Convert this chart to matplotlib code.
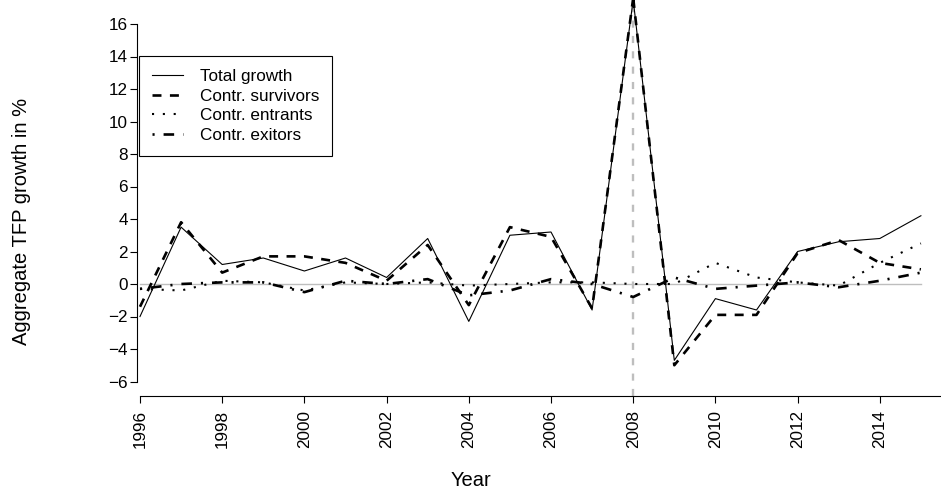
import matplotlib
matplotlib.use('Agg')
import matplotlib.pyplot as plt
import numpy as np

plt.rcParams['font.family'] = ['Liberation Sans', 'DejaVu Sans']

years = np.arange(1996, 2016)
total_growth = [-2.0, 3.5, 1.2, 1.6, 0.8, 1.6, 0.4, 2.8, -2.3, 3.0, 3.2, -1.6, 17.5, -4.7, -0.9, -1.6, 2.0, 2.6, 2.8, 4.2]
contr_survivors = [-1.4, 3.8, 0.7, 1.7, 1.7, 1.3, 0.2, 2.4, -1.3, 3.5, 2.9, -1.5, 17.6, -5.0, -1.9, -1.9, 1.9, 2.7, 1.3, 0.9]
contr_entrants = [-0.3, -0.4, 0.2, 0.1, -0.4, 0.1, 0.0, 0.1, -0.1, 0.0, 0.1, 0.1, 0.0, 0.0, 1.3, 0.4, 0.1, -0.1, 1.3, 2.5]
contr_exitors = [-0.3, 0.0, 0.1, 0.1, -0.5, 0.2, 0.0, 0.3, -0.7, -0.4, 0.3, 0.0, -0.8, 0.4, -0.3, -0.1, 0.1, -0.2, 0.2, 0.7]
labels = ['Total growth', 'Contr. survivors', 'Contr. entrants', 'Contr. exitors']
x_ticks = np.arange(1996, 2015, 2)
y_ticks = np.arange(-6, 17, 2)
crisis_year = 2008

W, H = 941, 492
fig = plt.figure(figsize=(W / 100, H / 100), dpi=100)

# axes box in pixels: left edge = y axis line, bottom edge = x axis line
px_year = 41.1
px_unit = 16.25
left_px, right_px, bottom_px, top_px = 137, 941, 396, 0
ax = fig.add_axes([left_px / W, (H - bottom_px) / H, (right_px - left_px) / W, (bottom_px - top_px) / H])
ax.set_xlim(1996 - (140 - left_px) / px_year, 1996 + (right_px - 140) / px_year)
ax.set_ylim((284 - bottom_px) / px_unit, (284 - top_px) / px_unit)

ax.plot([years[0], years[-1]], [0, 0], color='#bebebe', lw=1, zorder=1)
ax.axvline(crisis_year, color='#bebebe', lw=1.7, dashes=(3, 3.5), zorder=1)

ax.plot(years, total_growth, color='black', lw=0.8, label=labels[0])
ax.plot(years, contr_survivors, color='black', lw=1.9, dashes=(3.4, 3.2), label=labels[1])
ax.plot(years, contr_entrants, color='black', lw=1.5, dashes=(1, 4.2), label=labels[2])
ax.plot(years, contr_exitors, color='black', lw=1.9, dashes=(0.8, 3.4, 4, 3.4), label=labels[3])

for s in ['top', 'right']:
    ax.spines[s].set_visible(False)
ax.spines['left'].set_bounds(-6, 16)
ax.spines['bottom'].set_bounds(1996, ax.get_xlim()[1])
ax.spines['left'].set_linewidth(0.8)
ax.spines['bottom'].set_linewidth(0.8)

ax.set_xticks(x_ticks)
ax.set_xticklabels([str(y) for y in x_ticks], rotation=90)
ax.set_yticks(y_ticks)
ax.set_yticklabels([str(v).replace('-', '\u2212') for v in y_ticks])
ax.tick_params(axis='both', direction='out', length=5, width=0.8, labelsize=12.3)
ax.tick_params(axis='x', pad=5)
ax.tick_params(axis='y', pad=1.5)

fig.text(471 / W, 1 - 480 / H, 'Year', ha='center', va='center', fontsize=14.5)
fig.text(22 / W, 1 - 221 / H, 'Aggregate TFP growth in %', ha='center', va='center',
         rotation=90, fontsize=14.5)

leg = ax.legend(loc='upper left', bbox_to_anchor=(139 / W, 1 - 56 / H), bbox_transform=fig.transFigure,
                fontsize=12.3, frameon=True, fancybox=False, edgecolor='black', framealpha=1,
                handlelength=1.8, handletextpad=1.0, labelspacing=0.28, borderpad=0.75, borderaxespad=0)
leg.get_frame().set_linewidth(0.8)

fig.savefig('out.png', dpi=100)
